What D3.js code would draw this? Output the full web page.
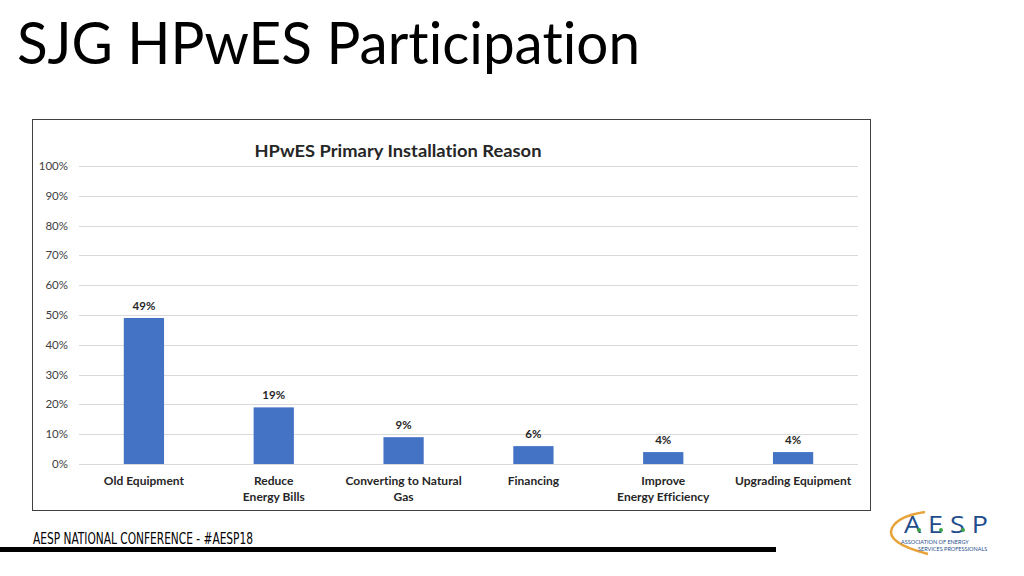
<!DOCTYPE html>
<html><head><meta charset="utf-8">
<script src="https://cdn.jsdelivr.net/npm/d3@7"></script>
<style>body{margin:0;background:#fff}svg{display:block}text{font-variant-ligatures:none;font-feature-settings:"liga" 0,"clig" 0,"dlig" 0,"calt" 0;letter-spacing:0.01px}</style>
</head><body>
<svg id="c" width="1024" height="576"></svg>
<script>
const categories = [["Old Equipment"],["Reduce","Energy Bills"],["Converting to Natural","Gas"],["Financing"],["Improve","Energy Efficiency"],["Upgrading Equipment"]];
const values = [49, 19, 9, 6, 4, 4];
const valueLabels = ["49%","19%","9%","6%","4%","4%"];
const yTicks = [0,10,20,30,40,50,60,70,80,90,100];
const pageTitle = "SJG HPwES Participation";
const chartTitle = "HPwES Primary Installation Reason";
const footer = "AESP NATIONAL CONFERENCE - #AESP18";

const svg = d3.select("#c");
const font = "Lato, 'Open Sans', sans-serif";

svg.append("text").attr("x",17).attr("y",64).attr("font-family",font)
  .attr("font-size",58).attr("fill","#000").attr("textLength",623).attr("lengthAdjust","spacingAndGlyphs").text(pageTitle);

// chart box
svg.append("rect").attr("x",32.5).attr("y",119.5).attr("width",838).attr("height",391)
  .attr("fill","#fff").attr("stroke","#404040").attr("stroke-width",1);

const x = d3.scaleBand().domain(d3.range(categories.length)).range([79,858]).paddingInner(0.69).paddingOuter(0.345);
const y = d3.scaleLinear().domain([0,100]).range([464,166]);

const g = svg.append("g");
g.selectAll("line.grid").data(yTicks).join("line")
  .attr("x1",79).attr("x2",858).attr("y1",d=>Math.round(y(d))+0.5).attr("y2",d=>Math.round(y(d))+0.5)
  .attr("stroke","#d9d9d9").attr("stroke-width",1);

g.selectAll("text.yt").data(yTicks).join("text")
  .attr("x",68).attr("y",d=>y(d)+4).attr("text-anchor","end")
  .attr("font-family",font).attr("font-size",11.5).attr("fill","#404040").text(d=>d+"%");

g.selectAll("rect.bar").data(values).join("rect")
  .attr("x",(d,i)=>x(i)).attr("width",x.bandwidth())
  .attr("y",d=>y(d)).attr("height",d=>y(0)-y(d)).attr("fill","#4472C4");

g.selectAll("text.vl").data(values).join("text")
  .attr("x",(d,i)=>x(i)+x.bandwidth()/2).attr("y",d=>y(d)-8).attr("text-anchor","middle")
  .attr("font-family",font).attr("font-size",11.5).attr("font-weight","bold").attr("fill","#262626")
  .text((d,i)=>valueLabels[i]);

categories.forEach((lines,i)=>{
  lines.forEach((t,j)=>{
    g.append("text").attr("x",x(i)+x.bandwidth()/2).attr("y",485+j*15.5).attr("text-anchor","middle")
      .attr("font-family",font).attr("font-size",12).attr("font-weight","bold").attr("fill","#262626").text(t);
  });
});

svg.append("text").attr("x",398).attr("y",157).attr("text-anchor","middle")
  .attr("font-family",font).attr("font-size",17.5).attr("font-weight","bold").attr("fill","#262626")
  .attr("textLength",287).attr("lengthAdjust","spacingAndGlyphs").text(chartTitle);

// footer
svg.append("text").attr("x",33).attr("y",544).attr("font-family","'Liberation Sans Narrow','DejaVu Sans Condensed',sans-serif")
  .attr("font-size",16).attr("fill","#000").attr("textLength",220).attr("lengthAdjust","spacingAndGlyphs").text(footer);
svg.append("rect").attr("x",0).attr("y",547).attr("width",776).attr("height",5).attr("fill","#000");

// logo
const lg = svg.append("g");
lg.append("path").attr("d","M 928 554 Q 885 543 892 528 Q 898 516 925 512").attr("fill","none").attr("stroke","#e8a33a").attr("stroke-width",2.5);
lg.append("text").attr("x",904).attr("y",533).attr("font-family","'Open Sans',sans-serif").attr("font-size",24)
  .attr("fill","#1f4e8c").attr("textLength",84).attr("lengthAdjust","spacingAndGlyphs").text("A E S P");
[919,941,963].forEach(cx=>lg.append("circle").attr("cx",cx).attr("cy",530).attr("r",2).attr("fill","#3aa34a"));
lg.append("text").attr("x",901).attr("y",544).attr("font-family",font).attr("font-size",5.5).attr("fill","#1f4e8c").text("ASSOCIATION OF ENERGY");
lg.append("text").attr("x",918).attr("y",551).attr("font-family",font).attr("font-size",5.5).attr("fill","#1f4e8c").text("SERVICES PROFESSIONALS");
</script>
</body></html>
